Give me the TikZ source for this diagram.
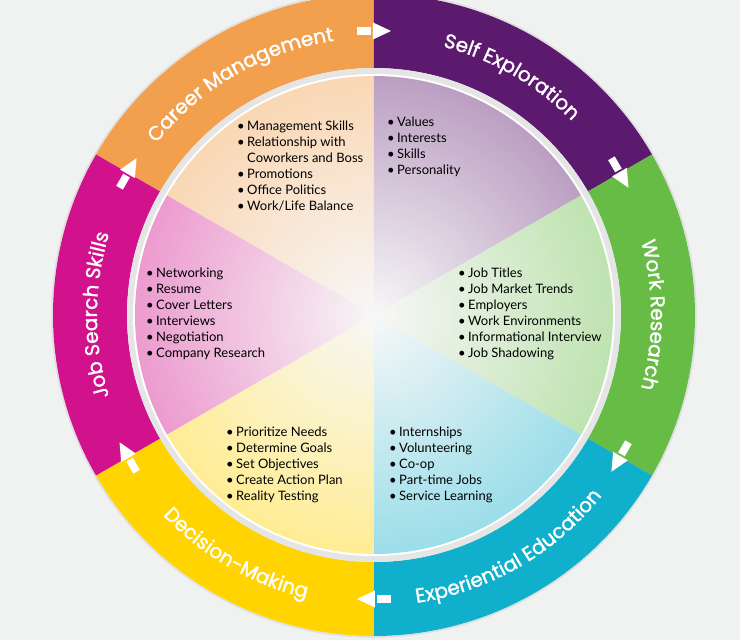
\documentclass[tikz,border=0pt]{standalone}
\usepackage{fontspec}
\newfontfamily\ringfont[FakeBold=1.3]{Poppins}
\newfontfamily\listfont{Lato}
\usepackage{tikz}
\usetikzlibrary{decorations.text}

\definecolor{bgGray}{HTML}{F0F1F1}
\definecolor{cmOrange}{HTML}{F2A04D}
\definecolor{sePurple}{HTML}{5C1A6E}
\definecolor{wrGreen}{HTML}{67BC45}
\definecolor{eeCyan}{HTML}{10AFCB}
\definecolor{dmYellow}{HTML}{FFD400}
\definecolor{jsMagenta}{HTML}{D2118C}

\newcommand{\ringtype}{\ringfont\fontsize{20}{24}\selectfont}
\newcommand{\bitem}{\makebox[10pt][l]{\textbullet}}
\newcommand{\bskip}{\hspace*{10pt}}

\begin{document}
\begin{tikzpicture}[
  x=1pt, y=1pt,
  ringlabel/.style={decorate, decoration={text along path, text align=center, text color=white}},
  topics/.style={anchor=north west, align=left, inner sep=0pt, font=\listfont\fontsize{13}{16}\selectfont, text=black},
]
  \useasboundingbox (-374,-325) rectangle (366,315);
  \clip (-374,-325) rectangle (366,315);
  \fill[bgGray] (-374,-325) rectangle (366,315);

  % outer ring
  \draw[gray!25, line width=1.5pt] (0,0) circle (322pt);
  \foreach \a/\b/\c in {90/150/cmOrange, 30/90/sePurple, -30/30/wrGreen, -90/-30/eeCyan, 210/270/dmYellow, 150/210/jsMagenta} {
    \fill[\c] (\a:321pt) arc[start angle=\a, end angle=\b, radius=321pt]
      -- (\b:247pt) arc[start angle=\b, end angle=\a, radius=247pt] -- cycle;
  }

  % inner disc
  \fill[gray!20] (0,0) circle (247pt);
  \fill[white] (0,0) circle (241pt);
  \foreach \a/\b/\c in {90/150/cmOrange, 30/90/sePurple, -30/30/wrGreen, -90/-30/eeCyan, 210/270/dmYellow, 150/210/jsMagenta} {
    \begin{scope}
      \clip (0,0) -- (\a:240pt) arc[start angle=\a, end angle=\b, radius=240pt] -- cycle;
      \shade[inner color=white!94!gray, outer color=\c!42] (0,0) circle (239pt);
    \end{scope}
  }

  % arrows on the ring
  \foreach \a in {90,30,-30,-90,-150,150} {
    \begin{scope}[shift={(\a:284pt)}, rotate=\a-90]
      \fill[white] (-17,-3.8) rectangle (-3,3.8);
      \fill[white] (-1,-8.5) -- (-1,8.5) -- (17,0) -- cycle;
    \end{scope}
  }

  % ring labels
  \path[ringlabel, decoration={text={|\ringtype|Career Management}}]
    (150:277pt) arc[start angle=150, end angle=90, radius=277pt];
  \path[ringlabel, decoration={text={|\ringtype|Self Exploration}}]
    (90:277pt) arc[start angle=90, end angle=30, radius=277pt];
  \path[ringlabel, decoration={text={|\ringtype|Work Research}}]
    (30:277pt) arc[start angle=30, end angle=-30, radius=277pt];
  \path[ringlabel, decoration={text={|\ringtype|Experiential Education}}]
    (-90:291pt) arc[start angle=-90, end angle=-30, radius=291pt];
  \path[ringlabel, decoration={text={|\ringtype|Decision-Making}}]
    (210:291pt) arc[start angle=210, end angle=270, radius=291pt];
  \path[ringlabel, decoration={text={|\ringtype|Job Search Skills}}]
    (210:277pt) arc[start angle=210, end angle=150, radius=277pt];

  % topic lists
  \node[topics] (careerList) at (-137,194.3) {\bitem Management Skills\\ \bitem Relationship with\\ \bskip Coworkers and Boss\\ \bitem Promotions\\ \bitem Office Politics\\ \bitem Work/Life Balance};
  \node[topics] (selfList) at (13,198.3) {\bitem Values\\ \bitem Interests\\ \bitem Skills\\ \bitem Personality};
  \node[topics] (searchList) at (-228,47) {\bitem Networking\\ \bitem Resume\\ \bitem Cover Letters\\ \bitem Interviews\\ \bitem Negotiation\\ \bitem Company Research};
  \node[topics] (workList) at (84,47) {\bitem Job Titles\\ \bitem Job Market Trends\\ \bitem Employers\\ \bitem Work Environments\\ \bitem Informational Interview\\ \bitem Job Shadowing};
  \node[topics] (decisionList) at (-148,-112) {\bitem Prioritize Needs\\ \bitem Determine Goals\\ \bitem Set Objectives\\ \bitem Create Action Plan\\ \bitem Reality Testing};
  \node[topics] (experienceList) at (15,-112) {\bitem Internships\\ \bitem Volunteering\\ \bitem Co-op\\ \bitem Part-time Jobs\\ \bitem Service Learning};
\end{tikzpicture}
\end{document}
